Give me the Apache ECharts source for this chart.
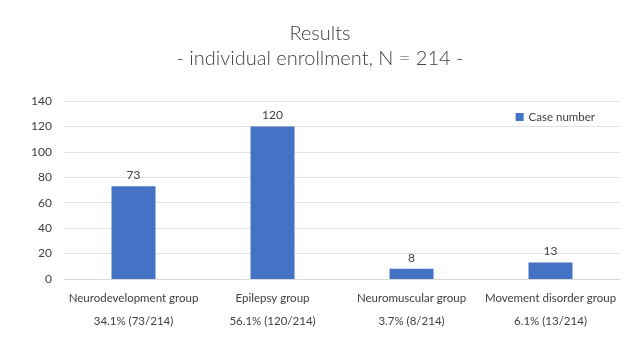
<!DOCTYPE html>
<html><head><meta charset="utf-8">
<script src="https://cdn.jsdelivr.net/npm/echarts@6/dist/echarts.min.js"></script>
<style>html,body{margin:0;padding:0;background:#fff}#c{width:640px;height:360px}</style>
</head><body><div id="c"></div>
<script>
var categories = ["Neurodevelopment group", "Epilepsy group", "Neuromuscular group", "Movement disorder group"];
var shares = ["34.1% (73/214)", "56.1% (120/214)", "3.7% (8/214)", "6.1% (13/214)"];
var caseNumbers = [73, 120, 8, 13];
var yTicks = {min: 0, max: 140, interval: 20};
var titleText = "Results";
var subtitleText = "- individual enrollment, N = 214 -";
var seriesName = "Case number";

var font = "Lato, 'Open Sans', sans-serif";
var chart = echarts.init(document.getElementById('c'));
chart.setOption({
  animation: false,
  title: {
    text: titleText + "\n" + subtitleText,
    left: 'center', top: 16,
    textStyle: {fontFamily: font, fontSize: 20, fontWeight: 300, color: '#404040', lineHeight: 25}
  },
  legend: {
    data: [seriesName], right: 40, top: 106, itemWidth: 8, itemHeight: 8, itemGap: 4,
    icon: 'rect',
    textStyle: {fontFamily: font, fontSize: 11.5, color: '#404040'}
  },
  grid: {left: 64, right: 20, top: 101, bottom: 81, containLabel: false},
  xAxis: {
    type: 'category',
    data: categories.map(function(c, i){ return c + "\n" + shares[i]; }),
    axisLine: {lineStyle: {color: '#d9d9d9'}},
    axisTick: {show: false},
    axisLabel: {fontFamily: font, fontSize: 11.5, color: '#404040', lineHeight: 23, margin: 8, interval: 0}
  },
  yAxis: {
    type: 'value', min: yTicks.min, max: yTicks.max, interval: yTicks.interval,
    axisLine: {show: false}, axisTick: {show: false},
    splitLine: {lineStyle: {color: '#e3e3e3'}},
    axisLabel: {fontFamily: font, fontSize: 12, color: '#404040', margin: 12}
  },
  series: [{
    name: seriesName, type: 'bar', data: caseNumbers, barWidth: 44,
    itemStyle: {color: '#4472C4'},
    label: {show: true, position: 'top', distance: 5, fontFamily: font, fontSize: 12, color: '#404040'}
  }]
});
</script></body></html>
